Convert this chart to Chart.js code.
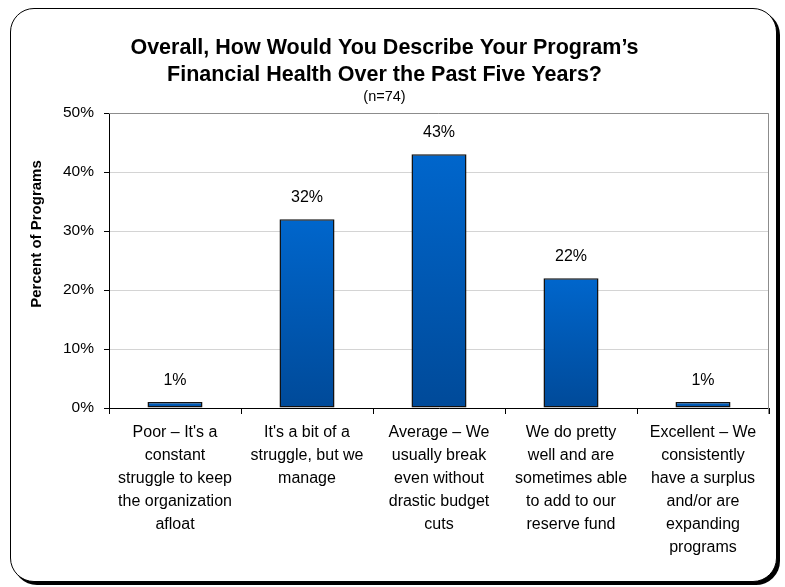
<!DOCTYPE html>
<html>
<head>
<meta charset="utf-8">
<script src="https://cdn.jsdelivr.net/npm/chart.js@4.4.1/dist/chart.umd.min.js"></script>
<style>
  html, body { margin: 0; padding: 0; background: #fff; }
  body { width: 785px; height: 587px; position: relative; overflow: hidden; }
  .frame {
    position: absolute; left: 10px; top: 8px; width: 765px; height: 572px;
    border: 1.5px solid #000; border-radius: 24px;
    box-shadow: 3px 3px 0 #000; background: #fff;
  }
  #chart { position: absolute; left: 0; top: 0; }
</style>
</head>
<body>
<div class="frame"></div>
<canvas id="chart" width="785" height="587"></canvas>
<script>
// ── Data ────────────────────────────────────────────────────────────────────
const categories = [
  ["Poor \u2013 It's a", 'constant', 'struggle to keep', 'the organization', 'afloat'],
  ["It's a bit of a", 'struggle, but we', 'manage'],
  ['Average \u2013 We', 'usually break', 'even without', 'drastic budget', 'cuts'],
  ['We do pretty', 'well and are', 'sometimes able', 'to add to our', 'reserve fund'],
  ['Excellent \u2013 We', 'consistently', 'have a surplus', 'and/or are', 'expanding', 'programs']
];
const percents = [1, 32, 43, 22, 1];
const yMin = 0, yMax = 50, yStep = 10;

const titleLines = ['Overall, How Would You Describe Your Program\u2019s', 'Financial Health Over the Past Five Years?'];
const subtitleText = '(n=74)';
const yTitle = 'Percent of Programs';

const FONT = "Arial, 'Liberation Sans', sans-serif";

// ── Per-bar vertical gradient ───────────────────────────────────────────────
function barFill(ctx) {
  const chart = ctx.chart;
  const y = chart.scales && chart.scales.y;
  if (!y || typeof ctx.raw !== 'number') return '#0058b4';
  const top = y.getPixelForValue(ctx.raw);
  const bottom = y.getPixelForValue(0);
  if (!isFinite(top) || !isFinite(bottom) || top === bottom) return '#0058b4';
  const g = chart.ctx.createLinearGradient(0, top, 0, bottom);
  g.addColorStop(0, '#0066cc');
  g.addColorStop(1, '#004a99');
  return g;
}

// ── Plot frame (gray top/right edges) ───────────────────────────────────────
const plotFrame = {
  id: 'plotFrame',
  beforeDatasetsDraw(chart) {
    const { ctx, chartArea: a } = chart;
    ctx.save();
    ctx.strokeStyle = '#8c8c8c';
    ctx.lineWidth = 1;
    ctx.beginPath();
    ctx.moveTo(a.left, a.top + 0.5);
    ctx.lineTo(a.right - 0.5, a.top + 0.5);
    ctx.lineTo(a.right - 0.5, a.bottom + 6);
    ctx.stroke();
    ctx.restore();
  }
};

// ── Value labels above bars ─────────────────────────────────────────────────
const valueLabels = {
  id: 'valueLabels',
  afterDatasetsDraw(chart) {
    const { ctx } = chart;
    const meta = chart.getDatasetMeta(0);
    ctx.save();
    ctx.font = '16px ' + FONT;
    ctx.fillStyle = '#000';
    ctx.textAlign = 'center';
    ctx.textBaseline = 'middle';
    meta.data.forEach((bar, i) => {
      ctx.fillText(percents[i] + '%', bar.x, bar.y - 22);
    });
    ctx.restore();
  }
};

// ── Y axis title (sits a little above the axis middle) ──────────────────────
const yAxisTitle = {
  id: 'yAxisTitle',
  afterDraw(chart) {
    const { ctx } = chart;
    ctx.save();
    ctx.translate(37, 234);
    ctx.rotate(-Math.PI / 2);
    ctx.font = 'bold 15px ' + FONT;
    ctx.fillStyle = '#000';
    ctx.textAlign = 'center';
    ctx.textBaseline = 'middle';
    ctx.fillText(yTitle, 0, 0);
    ctx.restore();
  }
};

new Chart(document.getElementById('chart'), {
  type: 'bar',
  data: {
    labels: categories,
    datasets: [{
      data: percents,
      backgroundColor: barFill,
      borderColor: '#111',
      borderWidth: 1.5,
      borderSkipped: false,
      barPercentage: 1,
      categoryPercentage: 0.417
    }]
  },
  options: {
    responsive: false,
    animation: false,
    layout: { padding: { left: 0, right: 16, top: 0, bottom: 0 } },
    plugins: {
      legend: { display: false },
      tooltip: { enabled: false },
      title: {
        display: true,
        text: titleLines,
        color: '#000',
        font: { family: FONT, size: 21.5, weight: 'bold', lineHeight: 27 / 21.5 },
        padding: { top: 34.5, bottom: 0 }
      },
      subtitle: {
        display: true,
        text: subtitleText,
        color: '#000',
        font: { family: FONT, size: 14.5, lineHeight: 17 / 14.5 },
        padding: { top: 0, bottom: 7.5 }
      }
    },
    scales: {
      x: {
        afterFit(scale) { scale.height = 179; },
        grid: {
          offset: true,
          drawOnChartArea: false,
          drawTicks: true,
          tickLength: 6,
          color: '#000'
        },
        border: { color: '#000', width: 1 },
        ticks: {
          color: '#000',
          padding: 7,
          maxRotation: 0,
          autoSkip: false,
          font: { family: FONT, size: 16, lineHeight: 23 / 16 }
        }
      },
      y: {
        min: yMin,
        max: yMax,
        afterFit(scale) { scale.width = 109; },
        grid: {
          color: '#d4d4d4',
          tickColor: '#000',
          tickLength: 5
        },
        border: { color: '#000', width: 1 },
        ticks: {
          stepSize: yStep,
          color: '#000',
          padding: 10,
          font: { family: FONT, size: 15.5 },
          callback: v => v + '%'
        }
      }
    }
  },
  plugins: [plotFrame, valueLabels, yAxisTitle]
});
</script>
</body>
</html>
